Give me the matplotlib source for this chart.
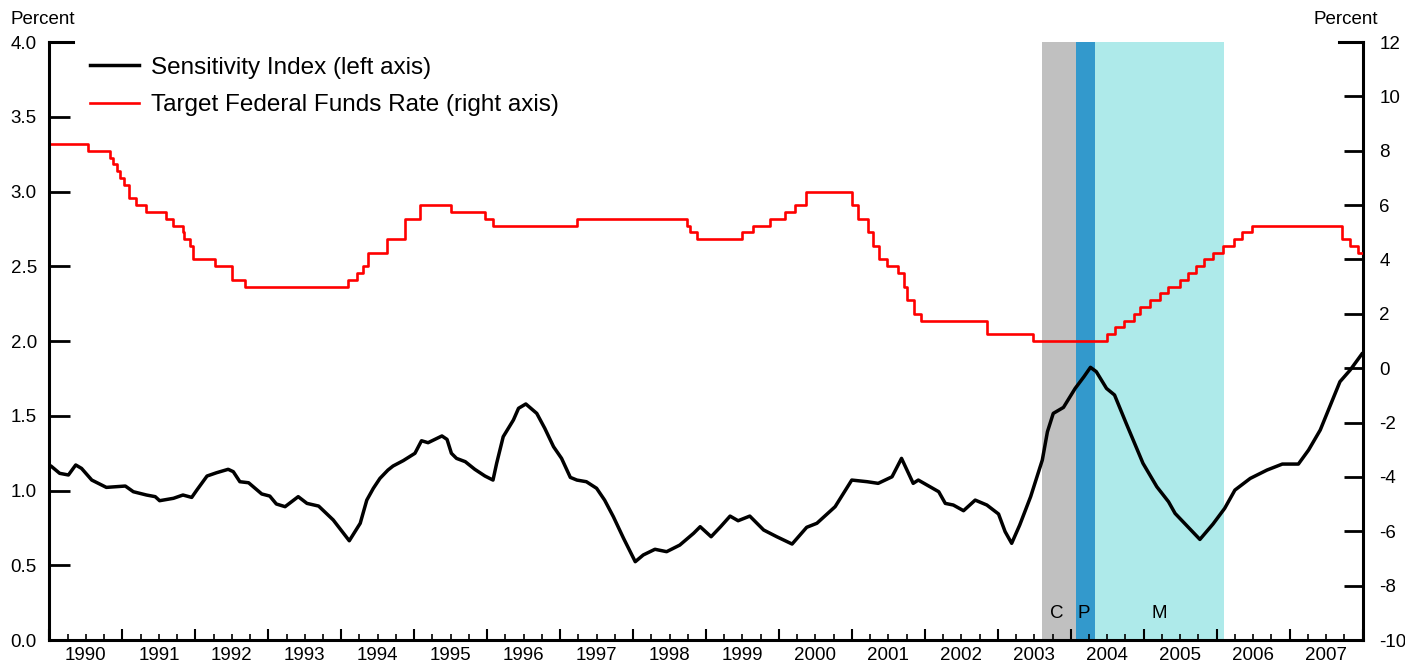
import matplotlib
matplotlib.use("Agg")
import matplotlib.pyplot as plt
import numpy as np
import pandas as pd
from matplotlib.ticker import MultipleLocator, FuncFormatter

plt.rcParams["font.family"] = ["Liberation Sans", "DejaVu Sans"]

# Sensitivity index (left axis)
si_year = [1990.03, 1990.14, 1990.26, 1990.36, 1990.44, 1990.58, 1990.78, 1991.04,
           1991.15, 1991.33, 1991.45, 1991.51, 1991.70, 1991.83, 1991.95, 1992.02,
           1992.16, 1992.29, 1992.45, 1992.52, 1992.61, 1992.73, 1992.91, 1993.02,
           1993.11, 1993.23, 1993.41, 1993.53, 1993.69, 1993.89, 1994.11, 1994.26,
           1994.35, 1994.44, 1994.53, 1994.64, 1994.71, 1994.85, 1995.01, 1995.10,
           1995.19, 1995.38, 1995.45, 1995.51, 1995.58, 1995.70, 1995.83, 1995.97,
           1996.08, 1996.13, 1996.22, 1996.36, 1996.43, 1996.53, 1996.68, 1996.79,
           1996.91, 1997.02, 1997.14, 1997.23, 1997.36, 1997.50, 1997.61, 1997.73,
           1997.87, 1998.03, 1998.14, 1998.30, 1998.46, 1998.64, 1998.83, 1998.92,
           1999.07, 1999.20, 1999.33, 1999.44, 1999.60, 1999.79, 1999.97, 2000.18,
           2000.38, 2000.52, 2000.77, 2000.998, 2001.21, 2001.36, 2001.55, 2001.68,
           2001.84, 2001.91, 2002.19, 2002.28, 2002.39, 2002.53, 2002.69, 2002.85,
           2003.01, 2003.10, 2003.19, 2003.30, 2003.45, 2003.61, 2003.68, 2003.76,
           2003.90, 2004.06, 2004.18, 2004.27, 2004.35, 2004.49, 2004.60, 2004.76,
           2004.99, 2005.18, 2005.34, 2005.43, 2005.77, 2005.95, 2006.11, 2006.25,
           2006.46, 2006.69, 2006.90, 2007.12, 2007.26, 2007.42, 2007.55, 2007.69,
           2007.83, 2007.99]
si_value = [1.16, 1.115, 1.104, 1.171, 1.148, 1.070, 1.021, 1.030,
            0.992, 0.970, 0.959, 0.932, 0.948, 0.970, 0.954, 1.003,
            1.097, 1.119, 1.142, 1.126, 1.059, 1.052, 0.977, 0.963,
            0.910, 0.892, 0.959, 0.914, 0.896, 0.803, 0.664, 0.781,
            0.936, 1.015, 1.081, 1.137, 1.164, 1.200, 1.249, 1.333,
            1.320, 1.365, 1.342, 1.249, 1.215, 1.193, 1.142, 1.097,
            1.070, 1.182, 1.360, 1.472, 1.550, 1.579, 1.516, 1.416,
            1.293, 1.215, 1.088, 1.070, 1.059, 1.015, 0.936, 0.825,
            0.680, 0.524, 0.569, 0.607, 0.591, 0.635, 0.714, 0.758,
            0.691, 0.758, 0.829, 0.798, 0.829, 0.736, 0.691, 0.642,
            0.754, 0.781, 0.892, 1.070, 1.059, 1.048, 1.092, 1.215,
            1.048, 1.070, 0.992, 0.914, 0.903, 0.865, 0.936, 0.903,
            0.843, 0.725, 0.647, 0.769, 0.959, 1.204, 1.393, 1.516,
            1.556, 1.683, 1.761, 1.824, 1.795, 1.683, 1.639, 1.449,
            1.182, 1.025, 0.925, 0.847, 0.673, 0.776, 0.881, 1.003,
            1.081, 1.137, 1.177, 1.177, 1.271, 1.405, 1.561, 1.728,
            1.806, 1.913]

# Target federal funds rate (right axis): change dates and new levels
ff_date = ["1990-01-01", "1990-07-13", "1990-10-29", "1990-11-13", "1990-12-07",
           "1990-12-19", "1991-01-09", "1991-02-01", "1991-03-08", "1991-04-30",
           "1991-08-06", "1991-09-13", "1991-10-31", "1991-11-06", "1991-12-06",
           "1991-12-20", "1992-04-09", "1992-07-02", "1992-09-04", "1994-02-04",
           "1994-03-22", "1994-04-18", "1994-05-17", "1994-08-16", "1994-11-15",
           "1995-02-01", "1995-07-06", "1995-12-19", "1996-01-31", "1997-03-25",
           "1998-09-29", "1998-10-15", "1998-11-17", "1999-06-30", "1999-08-24",
           "1999-11-16", "2000-02-02", "2000-03-21", "2000-05-16", "2001-01-03",
           "2001-01-31", "2001-03-20", "2001-04-18", "2001-05-15", "2001-06-27",
           "2001-08-21", "2001-09-17", "2001-10-02", "2001-11-06", "2001-12-11",
           "2002-11-06", "2003-06-25", "2004-06-30", "2004-08-10", "2004-09-21",
           "2004-11-10", "2004-12-14", "2005-02-02", "2005-03-22", "2005-05-03",
           "2005-06-30", "2005-08-09", "2005-09-20", "2005-11-01", "2005-12-13",
           "2006-01-31", "2006-03-28", "2006-05-10", "2006-06-29", "2007-09-18",
           "2007-10-31", "2007-12-11", "2007-12-31"]
ff_rate = [8.25, 8.00, 7.75, 7.50, 7.25,
           7.00, 6.75, 6.25, 6.00, 5.75,
           5.50, 5.25, 5.00, 4.75, 4.50,
           4.00, 3.75, 3.25, 3.00, 3.25,
           3.50, 3.75, 4.25, 4.75, 5.50,
           6.00, 5.75, 5.50, 5.25, 5.50,
           5.25, 5.00, 4.75, 5.00, 5.25,
           5.50, 5.75, 6.00, 6.50, 6.00,
           5.50, 5.00, 4.50, 4.00, 3.75,
           3.50, 3.00, 2.50, 2.00, 1.75,
           1.25, 1.00, 1.25, 1.50, 1.75,
           2.00, 2.25, 2.50, 2.75, 3.00,
           3.25, 3.50, 3.75, 4.00, 4.25,
           4.50, 4.75, 5.00, 5.25, 4.75,
           4.50, 4.25, 4.25]

# Policy phases (shaded)
phase_label = ["C", "P", "M"]
phase_start = [2003.60, 2004.07, 2004.33]
phase_end = [2004.07, 2004.33, 2006.10]
phase_color = ["#c0c0c0", "#3399cc", "#aeeaea"]
phase_text_x = [2003.81, 2004.18, 2005.21]

years = list(range(1990, 2008))

d = pd.to_datetime(ff_date)
ff_x = d.year + (d.dayofyear - 1) / 365.0

fig = plt.figure(figsize=(14.05, 6.64), dpi=100)
ax = fig.add_axes([0.0352, 0.0361, 0.9346, 0.9006])
ax2 = ax.twinx()

# shading sits on the lower (right-axis) layer so the red line stays on top
for s, e, c in zip(phase_start, phase_end, phase_color):
    ax2.axvspan(s, e, color=c, lw=0, zorder=0)
for lab, xt in zip(phase_label, phase_text_x):
    ax.text(xt, 0.18, lab, ha="center", va="center", fontsize=13.5, zorder=1)

l1, = ax.plot(si_year, si_value, color="black", lw=2.5, zorder=3,
              label="Sensitivity Index (left axis)")
l2, = ax2.step(ff_x, ff_rate, where="post", color="red", lw=1.9, zorder=3,
               label="Target Federal Funds Rate (right axis)")

ax.set_xlim(1990, 2008)
ax.set_ylim(0, 4)
ax2.set_ylim(-10, 12)

ax.yaxis.set_major_locator(MultipleLocator(0.5))
ax.yaxis.set_major_formatter(FuncFormatter(lambda v, p: f"{v:.1f}"))
ax2.yaxis.set_major_locator(MultipleLocator(2))
ax2.yaxis.set_major_formatter(FuncFormatter(lambda v, p: f"{v:.0f}"))

ax.set_xticks(years + [2008])
ax.set_xticklabels([])
ax.xaxis.set_minor_locator(MultipleLocator(0.25))
ax.xaxis.set_minor_formatter(
    FuncFormatter(lambda v, p: f"{int(v)}" if abs(v - int(v) - 0.5) < 1e-6 else ""))

ax.tick_params(axis="x", which="major", direction="in", length=8, width=1.5,
               top=False, labelsize=13.5)
ax.tick_params(axis="x", which="minor", direction="in", length=4, width=1.2,
               top=False, labelsize=13.5, pad=5)
ax.tick_params(axis="y", direction="in", length=15, width=2, labelsize=13.5, pad=9)
ax2.tick_params(axis="y", direction="in", length=14, width=2, labelsize=13.5, pad=12)

for a in (ax, ax2):
    for sp in a.spines.values():
        sp.set_linewidth(2.2)
ax.spines["right"].set_visible(False)
ax2.spines["left"].set_visible(False)
ax2.spines["bottom"].set_visible(False)
ax.spines["top"].set_bounds(1990, 1990.32)
ax2.spines["top"].set_bounds(2007.68, 2008)

ax.set_zorder(ax2.get_zorder() + 1)
ax.patch.set_visible(False)

fig.text(10 / 1405, 1 - 20 / 664, "Percent", ha="left", va="center", fontsize=13.5)
fig.text(1378 / 1405, 1 - 20 / 664, "Percent", ha="right", va="center", fontsize=13.5)

ax.legend([l1, l2], [l1.get_label(), l2.get_label()], loc="upper left",
          bbox_to_anchor=(0.031, 0.975), frameon=False, fontsize=17.5,
          handlelength=2.0, handletextpad=0.5, labelspacing=0.62,
          borderpad=0, borderaxespad=0)

fig.savefig("out.png", dpi=100)
